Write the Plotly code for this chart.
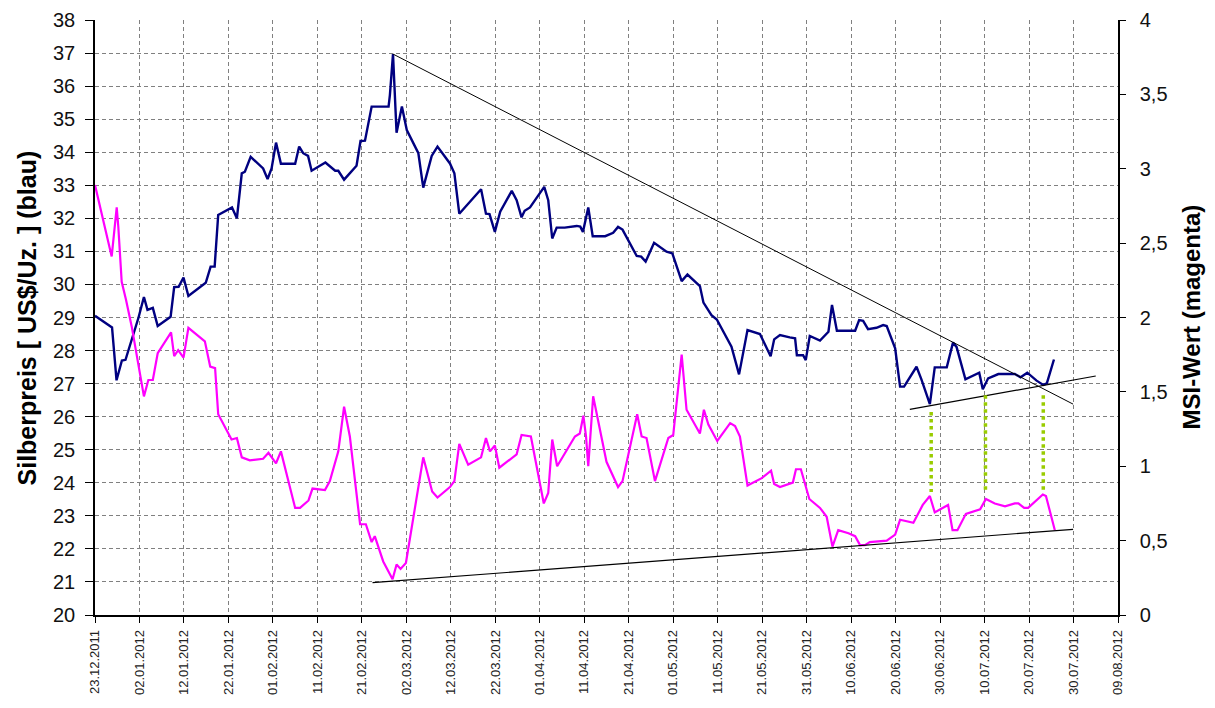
import plotly.graph_objects as go

# ---- data (x = days after 23.12.2011) ----
silver_days = [0.0, 3.83, 4.84, 6.05, 6.86, 9.79, 11.0, 11.8, 13.0, 14.1, 17.0, 17.8, 18.8, 19.9, 21.0,
               24.9, 26.0, 26.9, 27.7, 30.8, 31.9, 33.0, 33.7, 35.0, 37.8, 38.8, 39.7, 40.7, 41.8,
               45.0, 45.9, 46.8, 47.9, 48.7, 51.8, 54.0, 54.7, 56.0, 58.8, 59.7, 60.7, 62.2, 66.0,
               66.3, 67.0, 67.8, 69.0, 70.1, 72.7, 73.8, 75.7, 77.0, 79.8, 80.8, 81.9, 84.7, 86.8,
               87.9, 88.7, 89.9, 91.1, 93.7, 94.8, 95.9, 96.6, 97.8, 101.0, 101.9, 102.8, 103.8,
               105.6, 108.3, 109.1, 109.7, 110.9, 111.9, 114.7, 116.5, 117.6, 118.6, 121.8, 122.8,
               123.8, 125.7, 128.5, 129.8, 131.9, 133.2, 136.0, 136.8, 138.6, 139.8, 143.1, 144.8,
               146.7, 149.5, 151.9, 152.7, 154.0, 156.2, 157.4, 157.8, 159.2, 159.8, 160.7, 163.0,
               164.9, 165.7, 166.8, 170.9, 171.8, 172.7, 173.8, 175.7, 177.2, 178.0, 179.9, 181.0,
               181.9, 184.7, 185.8, 187.7, 188.8, 191.5, 192.9, 193.7, 195.7, 198.8, 199.6, 200.8,
               203.1, 206.8, 208.1, 209.6, 211.7, 213.2, 214.0, 215.6]
silver_price = [29.05, 28.70, 27.10, 27.70, 27.72, 29.00, 29.62, 29.23, 29.29, 28.74, 29.02, 29.92,
                29.93, 30.21, 29.65, 30.05, 30.54, 30.54, 32.10, 32.33, 32.00, 33.36, 33.41, 33.86,
                33.51, 33.19, 33.51, 34.29, 33.65, 33.65, 34.17, 33.97, 33.89, 33.44, 33.69, 33.44,
                33.44, 33.17, 33.59, 34.34, 34.35, 35.38, 35.38, 35.73, 36.97, 34.59, 35.38, 34.67,
                33.97, 32.93, 33.89, 34.17, 33.66, 33.36, 32.14, 32.57, 32.88, 32.14, 32.13, 31.59,
                32.20, 32.83, 32.55, 32.03, 32.23, 32.33, 32.95, 32.55, 31.39, 31.72, 31.72, 31.77,
                31.75, 31.59, 32.33, 31.46, 31.46, 31.56, 31.74, 31.66, 30.86, 30.84, 30.69, 31.26,
                30.99, 30.94, 30.10, 30.30, 29.95, 29.45, 29.07, 28.94, 28.12, 27.28, 28.62, 28.50,
                27.83, 28.34, 28.47, 28.40, 28.37, 27.86, 27.86, 27.71, 28.44, 28.30, 28.57, 29.38,
                28.60, 28.60, 28.92, 28.90, 28.65, 28.69, 28.77, 28.74, 28.07, 26.91, 26.91, 27.51,
                27.13, 26.38, 27.49, 27.49, 28.24, 28.11, 27.13, 27.33, 26.83, 27.16, 27.29, 27.29,
                27.19, 27.33, 27.09, 26.96, 27.01, 27.73]

msi_days = [0.0, 3.75, 4.88, 5.24, 6.0, 6.97, 8.25, 11.0, 12.0, 13.0, 14.1, 17.1, 17.8, 18.7, 19.9,
            21.0, 24.7, 25.9, 27.0, 27.7, 30.7, 31.9, 33.0, 34.8, 37.8, 39.0, 40.7, 41.8, 45.0,
            46.1, 48.0, 48.9, 51.7, 52.8, 54.7, 56.0, 57.3, 59.6, 60.9, 62.2, 62.9, 64.8, 66.9,
            67.8, 68.7, 69.9, 73.8, 75.8, 77.0, 79.8, 80.8, 81.9, 83.9, 86.8, 87.9, 88.8, 89.9,
            90.9, 94.8, 95.9, 98.0, 100.9, 101.9, 102.8, 103.9, 107.9, 109.0, 109.8, 110.4, 110.9,
            112.0, 115.0, 117.6, 118.6, 121.9, 122.9, 124.0, 125.9, 128.9, 130.0, 131.9, 133.0,
            136.0, 136.9, 137.9, 139.9, 142.8, 143.9, 145.0, 146.7, 149.9, 152.0, 152.7, 154.0,
            156.9, 157.6, 158.7, 160.6, 163.0, 164.5, 165.8, 167.1, 169.4, 170.9, 172.0, 173.1,
            174.2, 178.0, 179.9, 181.0, 184.0, 186.1, 187.7, 188.8, 191.8, 192.8, 193.9, 195.8,
            199.0, 200.3, 202.3, 204.6, 206.8, 207.6, 208.9, 209.8, 213.1, 213.8, 215.8]
msi_value = [2.89, 2.41, 2.74, 2.61, 2.24, 2.12, 1.94, 1.47, 1.58, 1.58, 1.76, 1.90, 1.74, 1.78,
             1.73, 1.93, 1.84, 1.67, 1.66, 1.35, 1.18, 1.19, 1.06, 1.04, 1.05, 1.09, 1.02, 1.10,
             0.72, 0.72, 0.77, 0.85, 0.84, 0.90, 1.10, 1.40, 1.20, 0.61, 0.61, 0.49, 0.53, 0.36,
             0.24, 0.34, 0.31, 0.35, 1.06, 0.83, 0.79, 0.86, 0.90, 1.15, 1.01, 1.06, 1.19, 1.10,
             1.14, 0.99, 1.08, 1.21, 1.20, 0.75, 0.82, 1.18, 1.00, 1.20, 1.22, 1.34, 1.20, 1.00,
             1.47, 1.03, 0.86, 0.90, 1.35, 1.20, 1.19, 0.90, 1.19, 1.21, 1.75, 1.38, 1.22, 1.38,
             1.28, 1.17, 1.29, 1.27, 1.20, 0.87, 0.92, 0.97, 0.88, 0.86, 0.89, 0.98, 0.98, 0.78,
             0.72, 0.66, 0.46, 0.57, 0.55, 0.53, 0.47, 0.47, 0.49, 0.50, 0.54, 0.64, 0.62, 0.74,
             0.80, 0.69, 0.74, 0.57, 0.57, 0.68, 0.71, 0.78, 0.75, 0.73, 0.75, 0.75, 0.72, 0.72,
             0.81, 0.80, 0.57]

# trend lines (endpoints)
upper_trend_days = [67.0, 219.9]
upper_trend_vals = [36.97, 26.38]
price_support_days = [183.2, 225.0]
price_support_vals = [26.22, 27.23]
msi_support_days = [62.4, 219.9]
msi_support_vals = [0.217, 0.576]
# green dotted connectors (left axis units)
marker_days = [188.0, 200.2, 213.2]
marker_top = [26.14, 26.65, 26.65]
marker_bottom = [23.72, 23.69, 23.72]

tick_days = list(range(0, 231, 10))
tick_labels = ["23.12.2011", "02.01.2012", "12.01.2012", "22.01.2012", "01.02.2012", "11.02.2012",
               "21.02.2012", "02.03.2012", "12.03.2012", "22.03.2012", "01.04.2012", "11.04.2012",
               "21.04.2012", "01.05.2012", "11.05.2012", "21.05.2012", "31.05.2012", "10.06.2012",
               "20.06.2012", "30.06.2012", "10.07.2012", "20.07.2012", "30.07.2012", "09.08.2012"]

left_title = "Silberpreis [ US$/Uz. ] (blau)"
right_title = "MSI-Wert (magenta)"

fig = go.Figure()

fig.add_trace(go.Scatter(x=msi_days, y=msi_value, yaxis="y2", mode="lines",
                         line=dict(color="#FF00FF", width=2.2), showlegend=False))
fig.add_trace(go.Scatter(x=silver_days, y=silver_price, mode="lines",
                         line=dict(color="#000080", width=2.4), showlegend=False))
fig.add_trace(go.Scatter(x=upper_trend_days, y=upper_trend_vals, mode="lines",
                         line=dict(color="black", width=1), showlegend=False))
fig.add_trace(go.Scatter(x=price_support_days, y=price_support_vals, mode="lines",
                         line=dict(color="black", width=1.2), showlegend=False))
fig.add_trace(go.Scatter(x=msi_support_days, y=msi_support_vals, yaxis="y2", mode="lines",
                         line=dict(color="black", width=1.2), showlegend=False))
for d, t, b in zip(marker_days, marker_top, marker_bottom):
    fig.add_trace(go.Scatter(x=[d, d], y=[t, b], mode="lines",
                             line=dict(color="#99CC00", width=3.5, dash="dot"), showlegend=False))

grid_dash = "4px,3px"
fig.update_layout(
    width=1199, height=692,
    margin=dict(l=87, r=89, t=12, b=85),
    paper_bgcolor="white", plot_bgcolor="white",
    separators=",.",
    font=dict(family="Liberation Sans, Arial, sans-serif", color="black"),
    xaxis=dict(range=[0, 230], tickvals=tick_days, ticktext=tick_labels, tickangle=-90,
               tickfont=dict(size=13, color="#222222"), showgrid=True, gridcolor="#808080",
               griddash=grid_dash, gridwidth=1, showline=True, linecolor="black", linewidth=1.5,
               ticks="outside", ticklen=6, tickcolor="black", zeroline=False, automargin=False,
               ticklabelstandoff=2),
    yaxis=dict(range=[20, 38], dtick=1, tick0=20, tickfont=dict(size=20, color="#111111"),
               showgrid=True, gridcolor="#808080", griddash=grid_dash, gridwidth=1,
               showline=True, linecolor="black", linewidth=1.5, ticks="outside", ticklen=8,
               tickcolor="black", zeroline=False, automargin=False, ticklabelstandoff=6),
    yaxis2=dict(range=[0, 4], dtick=0.5, tick0=0, overlaying="y", side="right",
                tickfont=dict(size=20, color="#111111"), showgrid=False, showline=True,
                linecolor="black", linewidth=1.5, ticks="outside", ticklen=6, tickcolor="black",
                zeroline=False, automargin=False, ticklabelstandoff=10),
    annotations=[
        dict(text="<b>" + left_title + "</b>", xref="paper", yref="paper",
             x=-0.0665, y=0.5, xanchor="center", yanchor="middle", textangle=-90,
             showarrow=False, font=dict(size=25, color="black")),
        dict(text="<b>" + right_title + "</b>", xref="paper", yref="paper",
             x=1.0714, y=0.5, xanchor="center", yanchor="middle", textangle=-90,
             showarrow=False, font=dict(size=24, color="black")),
    ],
)

fig.write_html("out.html")
